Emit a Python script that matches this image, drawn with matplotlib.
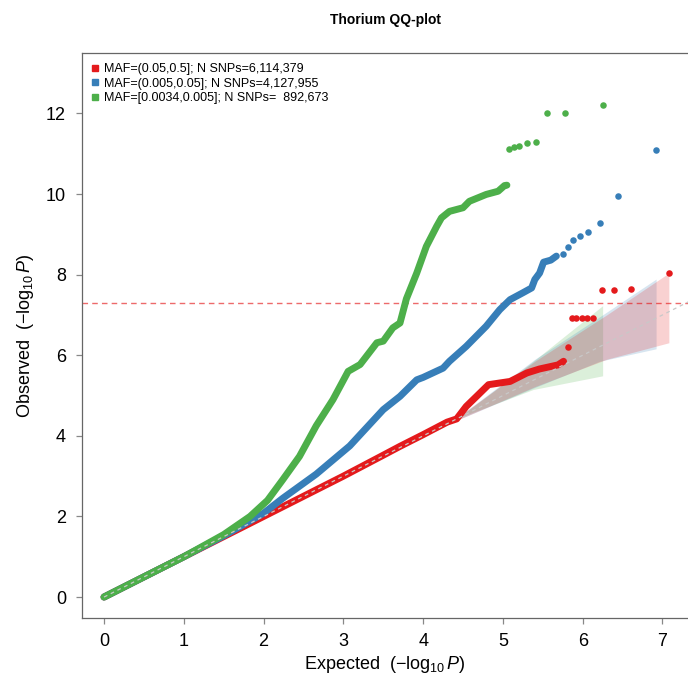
import matplotlib
matplotlib.use('Agg')
import matplotlib.pyplot as plt
from matplotlib.lines import Line2D

plt.rcParams['font.family'] = ['Liberation Sans', 'DejaVu Sans']
plt.rcParams['mathtext.fontset'] = 'custom'
plt.rcParams['mathtext.rm'] = 'Liberation Sans'
plt.rcParams['mathtext.it'] = 'Liberation Sans:italic'

RED = '#E41A1C'
BLUE = '#377EB8'
GREEN = '#4DAF4A'

# dense part of each QQ curve (expected, observed)
red_x = [0, 0.5, 1.0, 1.5, 2.0, 2.5, 3.0, 3.5, 3.71, 4.0, 4.3, 4.42, 4.54, 4.67, 4.82, 5.09, 5.30, 5.46, 5.69, 5.76]
red_y = [0, 0.5, 1.0, 1.5, 2.0, 2.5, 3.0, 3.52, 3.74, 4.03, 4.34, 4.42, 4.73, 4.98, 5.27, 5.35, 5.56, 5.66, 5.76, 5.85]
red_top_x = [5.81, 5.86, 5.92, 5.99, 6.05, 6.13, 6.24, 6.39, 6.61, 7.08]
red_top_y = [6.20, 6.92, 6.92, 6.92, 6.92, 6.92, 7.63, 7.63, 7.65, 8.04]

blue_x = [0, 1.0, 1.5, 2.0, 2.24, 2.66, 3.08, 3.5, 3.71, 3.92, 4.0, 4.25, 4.33, 4.54, 4.79, 4.96, 5.09,
          5.25, 5.36, 5.40, 5.46, 5.51, 5.60, 5.67]
blue_y = [0, 1.0, 1.52, 2.08, 2.45, 3.05, 3.75, 4.65, 4.98, 5.39, 5.45, 5.68, 5.85, 6.22, 6.72, 7.13, 7.38,
          7.55, 7.67, 7.88, 8.04, 8.31, 8.36, 8.46]
blue_top_x = [5.75, 5.81, 5.88, 5.97, 6.07, 6.22, 6.44, 6.92]
blue_top_y = [8.52, 8.68, 8.85, 8.96, 9.06, 9.28, 9.96, 11.10]

green_x = [0, 1.0, 1.5, 1.83, 2.05, 2.24, 2.45, 2.66, 2.87, 3.06, 3.21, 3.42, 3.50, 3.62, 3.71, 3.79, 3.92,
           4.04, 4.17, 4.23, 4.33, 4.50, 4.58, 4.79, 4.94, 5.02, 5.05]
green_y = [0, 1.0, 1.55, 2.0, 2.4, 2.91, 3.49, 4.25, 4.90, 5.60, 5.77, 6.31, 6.35, 6.68, 6.80, 7.40, 8.04,
           8.70, 9.20, 9.41, 9.57, 9.66, 9.82, 9.99, 10.07, 10.21, 10.22]
green_top_x = [5.08, 5.14, 5.20, 5.30, 5.41, 5.55, 5.78, 6.25]
green_top_y = [11.12, 11.16, 11.18, 11.26, 11.30, 12.0, 12.0, 12.20]

# confidence bands
green_band_x = [3.5, 4.46, 5.38, 6.25]
green_band_lo = [3.5, 4.46, 5.15, 5.49]
green_band_hi = [3.5, 4.48, 5.85, 7.23]
blue_band_x = [3.5, 4.46, 5.4, 6.21, 6.92]
blue_band_lo = [3.5, 4.42, 5.2, 5.85, 6.16]
blue_band_hi = [3.5, 4.50, 5.9, 6.95, 7.89]
red_band_x = [3.5, 4.46, 5.4, 6.3, 7.08]
red_band_lo = [3.5, 4.42, 5.22, 5.9, 6.31]
red_band_hi = [3.5, 4.50, 5.85, 7.0, 8.04]

labels = ['MAF=(0.05,0.5]; N SNPs=6,114,379',
          'MAF=(0.005,0.05]; N SNPs=4,127,955',
          'MAF=[0.0034,0.005]; N SNPs=  892,673']

fig = plt.figure(figsize=(6.88, 6.77), dpi=100)
ax = fig.add_axes([82 / 688, 59 / 677, 606 / 688, 565 / 677])

ax.fill_between(green_band_x, green_band_lo, green_band_hi, color=GREEN, alpha=0.2, lw=0, zorder=1)
ax.fill_between(blue_band_x, blue_band_lo, blue_band_hi, color=BLUE, alpha=0.2, lw=0, zorder=1)
ax.fill_between(red_band_x, red_band_lo, red_band_hi, color=RED, alpha=0.2, lw=0, zorder=1)

ax.axhline(7.3, color=RED, alpha=0.65, lw=1, ls=(0, (4, 3)), zorder=2)

lw = 5.0
ax.plot(red_x, red_y, color=RED, lw=lw, solid_capstyle='round', solid_joinstyle='round', zorder=3)
ax.plot(red_top_x, red_top_y, 'o', color=RED, ms=4.7, mec='none', zorder=3)
ax.plot(blue_x, blue_y, color=BLUE, lw=lw, solid_capstyle='round', solid_joinstyle='round', zorder=4)
ax.plot(blue_top_x, blue_top_y, 'o', color=BLUE, ms=4.7, mec='none', zorder=4)
ax.plot(green_x, green_y, color=GREEN, lw=lw, solid_capstyle='round', solid_joinstyle='round', zorder=5)
ax.plot(green_top_x, green_top_y, 'o', color=GREEN, ms=4.7, mec='none', zorder=5)

# y = x reference
ax.plot([0, 7.4], [0, 7.4], color='#c8c8c8', lw=0.9, ls=(0, (3, 3)), zorder=6)

ax.set_xlim(-0.276, 7.32)
ax.set_ylim(-0.52, 13.5)
ax.set_xticks(range(0, 8))
ax.set_yticks(range(0, 13, 2))
ax.spines['right'].set_visible(False)
for s in ['left', 'bottom', 'top']:
    ax.spines[s].set_color('#666666')
    ax.spines[s].set_linewidth(0.9)
ax.tick_params(axis='both', length=4.5, width=0.9, color='#888888', labelsize=13)
ax.tick_params(axis='x', pad=6)
ax.tick_params(axis='y', pad=7)

ax.set_xlabel(r'Expected  $(-\log_{10}P)$', fontsize=13, labelpad=3)
ax.set_ylabel(r'Observed  $(-\log_{10}P)$', fontsize=13, labelpad=7)
fig.text(385 / 688, 1 - 20 / 677, 'Thorium QQ-plot', ha='center', va='center', fontsize=10, fontweight='bold')

handles = [Line2D([], [], ls='none', marker='s', ms=4.2, color=c) for c in (RED, BLUE, GREEN)]
ax.legend(handles, labels, loc='upper left', frameon=False, fontsize=9.0, handlelength=0.5,
          handletextpad=0.5, labelspacing=0.22, borderaxespad=0.4, bbox_to_anchor=(0.0, 1.0))

fig.savefig('out.png', dpi=100)
